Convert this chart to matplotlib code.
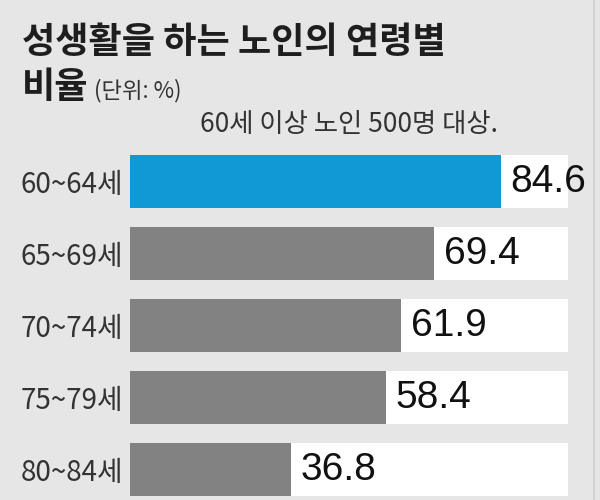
import matplotlib
matplotlib.use("Agg")
import matplotlib.pyplot as plt

# data
ages = ["60~64세", "65~69세", "70~74세", "75~79세", "80~84세"]
rates = [84.6, 69.4, 61.9, 58.4, 36.8]
highlight = 0

bg = "#e6e6e6"
blue = "#1199d5"
gray = "#828282"
txt = "#1e1e1e"
narrow = ["Liberation Sans", "Noto Sans CJK KR", "DejaVu Sans"]
kr = ["Noto Sans CJK KR", "DejaVu Sans"]

fig = plt.figure(figsize=(6, 5), dpi=100, facecolor=bg)
ax = fig.add_axes([130 / 600, -5.5 / 500, 438 / 600, 360 / 500])
ax.set_facecolor(bg)

pos = list(range(len(ages)))
colors = [blue if i == highlight else gray for i in pos]

# white strip behind every bar up to 100
ax.barh(pos, [100] * len(pos), height=0.74, color="white", zorder=1)
ax.barh(pos, rates, height=0.74, color=colors, zorder=2)

for i, v in enumerate(rates):
    ax.annotate(f"{v:.1f}", (v, i), xytext=(7, 0), textcoords="offset points",
                ha="left", va="center", fontsize=28, color="#111111",
                family=narrow, zorder=3)

ax.set_xlim(0, 100)
ax.set_ylim(4.5, -0.5)
ax.set_yticks(pos)
ax.set_yticklabels(ages, family=kr, fontsize=20, color="#333333")
ax.tick_params(axis="y", length=0, pad=5)
ax.set_xticks([])
for s in ax.spines.values():
    s.set_visible(False)

# faint frame line on the right
fig.add_artist(plt.Line2D([594 / 600, 594 / 600], [0, 1], color="#d4d4d4", lw=1.5))

fig.text(22 / 600, 1 - 43 / 500, "성생활을 하는 노인의 연령별", family=kr,
         fontsize=26, fontweight="bold", color=txt, va="center", ha="left")
fig.text(22 / 600, 1 - 88 / 500, "비율", family=kr,
         fontsize=26, fontweight="bold", color=txt, va="center", ha="left")
fig.text(94 / 600, 1 - 91 / 500, "(단위: %)", family=kr,
         fontsize=16, color="#333333", va="center", ha="left")
fig.text(498 / 600, 1 - 125 / 500, "60세 이상 노인 500명 대상.", family=kr,
         fontsize=19, color="#333333", va="center", ha="right")

fig.savefig("out.png", dpi=100, facecolor=bg)
